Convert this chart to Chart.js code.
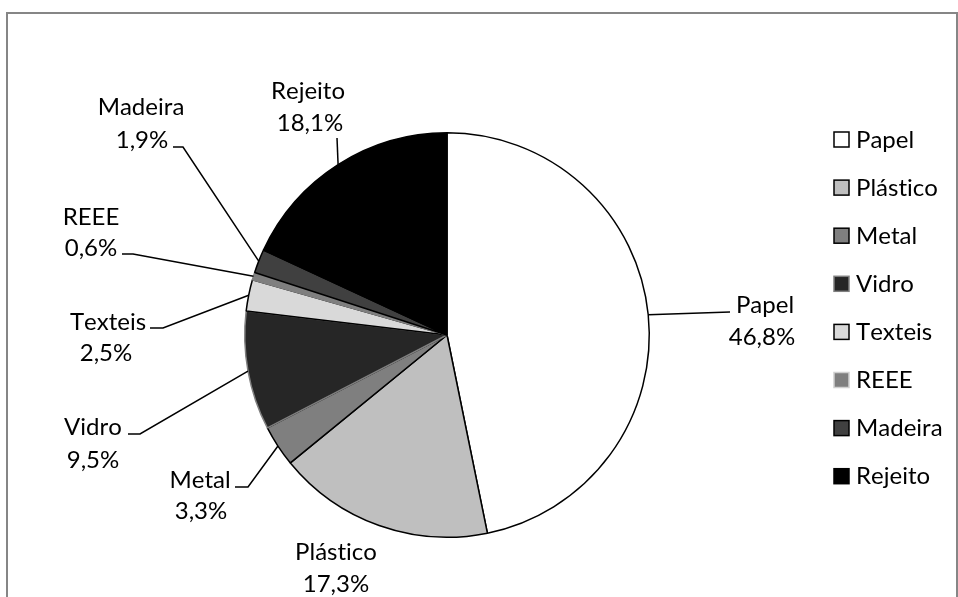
<!DOCTYPE html>
<html lang="pt">
<head>
<meta charset="utf-8">
<title>Composição dos resíduos</title>
<script src="https://cdn.jsdelivr.net/npm/chart.js@4/dist/chart.umd.min.js"></script>
<style>
  html, body { margin: 0; padding: 0; background: #fff; }
  #wrap { position: relative; width: 958px; height: 597px; }
</style>
</head>
<body>
<div id="wrap"><canvas id="residuos" width="958" height="597"></canvas></div>
<script>
// Composição gravimétrica (%)
const categorias = ['Papel', 'Plástico', 'Metal', 'Vidro', 'Texteis', 'REEE', 'Madeira', 'Rejeito'];
const percentuais = [46.8, 17.3, 3.3, 9.5, 2.5, 0.6, 1.9, 18.1];

const cores   = ['#ffffff', '#bfbfbf', '#7f7f7f', '#262626', '#d9d9d9', '#7f7f7f', '#404040', '#000000'];
const bordas  = ['#000000', '#000000', '#000000', '#7f7f7f', '#000000', '#7f7f7f', '#000000', '#000000'];

const FONTE = '24px Lato, "Open Sans", sans-serif';

// Posição dos rótulos (duas linhas) e pontos do traço guia: anchor -> elbow -> end
const rotulos = [
  { l1: [765, 305], l2: [762, 337], guia: [[730, 312]] },
  { l1: [336, 552], l2: [336, 584], guia: null },
  { l1: [200, 480], l2: [201, 511], guia: [[248, 487], [235, 487]] },
  { l1: [ 93, 427], l2: [ 93, 460], guia: [[140, 434], [128, 434]] },
  { l1: [108, 322], l2: [106, 353], guia: [[163, 328], [150, 328]] },
  { l1: [ 91, 217], l2: [ 91, 248], guia: [[133, 254], [122, 254]] },
  { l1: [141, 107], l2: [142, 140], guia: [[183, 147], [173, 147]] },
  { l1: [308,  91], l2: [310, 123], guia: [[337, 138]] },
];

function fmt(v) {
  return v.toFixed(1).replace('.', ',') + '%';
}

// sem ligaduras (o "ti" do Lato)
function semLigaduras(ctx) {
  if ('textRendering' in ctx) ctx.textRendering = 'optimizeSpeed';
  if ('fontKerning' in ctx) ctx.fontKerning = 'none';
}

//  Moldura cinza da área do gráfico
const moldura = {
  id: 'moldura',
  beforeDraw(chart) {
    const { ctx } = chart;
    ctx.save();
    ctx.strokeStyle = '#868686';
    ctx.lineWidth = 2;
    ctx.strokeRect(7, 13, 950, 600);
    ctx.restore();
  }
};

//  Rótulos com traço guia até o meio de cada fatia
const rotulosFatias = {
  id: 'rotulosFatias',
  afterDatasetsDraw(chart) {
    const { ctx } = chart;
    const arcs = chart.getDatasetMeta(0).data;
    ctx.save();
    semLigaduras(ctx);
    ctx.font = FONTE;
    ctx.fillStyle = '#000';
    ctx.textAlign = 'center';
    ctx.textBaseline = 'middle';
    ctx.strokeStyle = '#000';
    ctx.lineWidth = 1.5;

    arcs.forEach((arc, i) => {
      const r = rotulos[i];
      const p = arc.getProps(['x', 'y', 'startAngle', 'endAngle', 'outerRadius'], true);
      const mid = (p.startAngle + p.endAngle) / 2;
      if (r.guia) {
        ctx.beginPath();
        ctx.moveTo(p.x + Math.cos(mid) * p.outerRadius, p.y + Math.sin(mid) * p.outerRadius);
        r.guia.forEach(pt => ctx.lineTo(pt[0], pt[1]));
        ctx.stroke();
      }
      ctx.fillText(categorias[i], r.l1[0], r.l1[1]);
      ctx.fillText(fmt(percentuais[i]), r.l2[0], r.l2[1]);
    });
    ctx.restore();
  }
};

//  Legenda à direita
const legenda = {
  id: 'legenda',
  afterDraw(chart) {
    const { ctx } = chart;
    ctx.save();
    semLigaduras(ctx);
    ctx.font = FONTE;
    ctx.textAlign = 'left';
    ctx.textBaseline = 'middle';
    categorias.forEach((nome, i) => {
      const y = 139 + i * 48.1;
      ctx.fillStyle = cores[i];
      ctx.fillRect(834, y - 7, 15, 15);
      ctx.strokeStyle = i === 5 ? '#d0d0d0' : (i === 3 ? '#7f7f7f' : '#000');
      ctx.lineWidth = 1.5;
      ctx.strokeRect(834, y - 7, 15, 15);
      ctx.fillStyle = '#000';
      ctx.fillText(nome, 856, y + 1);
    });
    ctx.restore();
  }
};

new Chart(document.getElementById('residuos'), {
  type: 'pie',
  data: {
    labels: categorias,
    datasets: [{
      data: percentuais,
      backgroundColor: cores,
      borderColor: bordas,
      borderWidth: 1.5,
    }],
  },
  options: {
    responsive: false,
    animation: false,
    layout: { padding: { top: 132, bottom: 59, left: 100, right: 164 } },
    plugins: {
      legend:  { display: false },
      tooltip: { enabled: false },
    },
  },
  plugins: [moldura, rotulosFatias, legenda],
});
</script>
</body>
</html>
